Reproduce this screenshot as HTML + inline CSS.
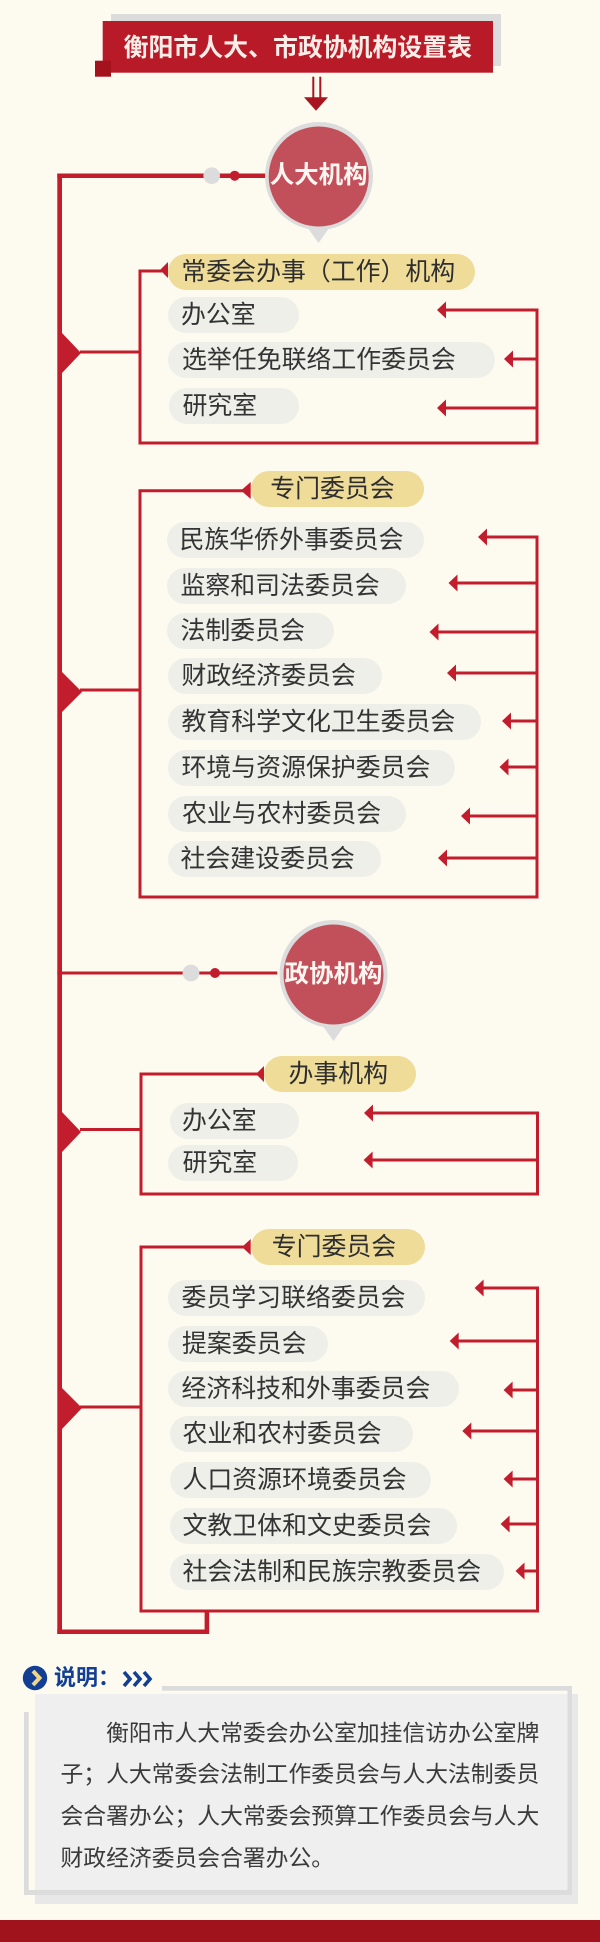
<!DOCTYPE html>
<html><head><meta charset="utf-8">
<style>
html,body{margin:0;padding:0;}
body{width:600px;height:1942px;background:#fdfaef;position:relative;overflow:hidden;font-family:"Liberation Sans","Noto Sans CJK SC",sans-serif;}
svg{position:absolute;left:0;top:0;}
.p{position:absolute;height:36px;line-height:36px;border-radius:18px;background:#efefe9;color:#333;font-size:24.9px;white-space:nowrap;box-sizing:border-box;}
.y{background:#efdc99;color:#2e2e2e;}
.ct{position:absolute;width:110px;height:36px;line-height:36px;text-align:center;color:#fff6f2;font-weight:bold;font-size:24.5px;white-space:nowrap;}
</style></head>
<body>
<svg width="600" height="1942" viewBox="0 0 600 1942">
<!-- title -->
<rect x="111" y="14" width="390" height="52" fill="#dcdcdc"/>
<rect x="102.7" y="21" width="390.3" height="51.7" fill="#b91a28"/>
<rect x="95" y="60.7" width="16" height="16" fill="#a3121d"/>
<rect x="312.3" y="76.7" width="2" height="21.5" fill="#a8141f"/>
<rect x="319.3" y="76.7" width="2" height="21.5" fill="#a8141f"/>
<polygon points="304,97.3 328,97.3 316,110.7" fill="#a8141f"/>

<!-- main line -->
<g fill="#c21d2d">
<rect x="57.3" y="173.5" width="4.7" height="1460.5"/>
<rect x="57.3" y="173.5" width="215" height="4.5"/>
<rect x="57.3" y="1629.5" width="151.7" height="4.5"/>
<rect x="204.6" y="1610" width="4.6" height="24"/>
<rect x="57.3" y="971.5" width="220" height="3"/>
</g>
<circle cx="211.7" cy="175.7" r="8.3" fill="#dcdcdc"/>
<circle cx="234.7" cy="175.7" r="5" fill="#c21d2d"/>
<circle cx="191" cy="973" r="8.4" fill="#dcdcdc"/>
<circle cx="215" cy="973" r="5" fill="#c21d2d"/>

<!-- circles -->
<circle cx="319" cy="176" r="54" fill="#dcdcdc"/>
<polygon points="305,224 332,224 318.5,243" fill="#dcdcdc"/>
<circle cx="318.7" cy="176.5" r="50" fill="#c1505a"/>
<circle cx="333.5" cy="974" r="54" fill="#dcdcdc"/>
<polygon points="320,1022 347,1022 333.5,1041" fill="#dcdcdc"/>
<circle cx="333.5" cy="974.5" r="50" fill="#c1505a"/>

<!-- brackets -->
<g fill="none" stroke="#c21d2d" stroke-width="3">
<path d="M162,271 H140 V443 H537 V310"/>
<path d="M243,490.7 H140 V897 H537 V537"/>
<path d="M258,1074 H141 V1194 H537.5 V1113"/>
<path d="M244,1247 H141 V1611 H537.5 V1288"/>
<line x1="80" y1="352" x2="140" y2="352"/>
<line x1="80" y1="690" x2="140" y2="690"/>
<line x1="80" y1="1129.5" x2="141" y2="1129.5"/>
<line x1="80" y1="1407" x2="141" y2="1407"/>
<!-- arrow lines -->
<line x1="445" y1="310" x2="538.5" y2="310"/>
<line x1="512" y1="359" x2="538.5" y2="359"/>
<line x1="445" y1="408" x2="538.5" y2="408"/>
<line x1="486" y1="537" x2="538.5" y2="537"/>
<line x1="456" y1="583" x2="538.5" y2="583"/>
<line x1="437" y1="632" x2="538.5" y2="632"/>
<line x1="455" y1="673" x2="538.5" y2="673"/>
<line x1="510" y1="721" x2="538.5" y2="721"/>
<line x1="507" y1="767" x2="538.5" y2="767"/>
<line x1="469" y1="816" x2="538.5" y2="816"/>
<line x1="446" y1="858" x2="538.5" y2="858"/>
<line x1="372" y1="1113" x2="539" y2="1113"/>
<line x1="372" y1="1160" x2="539" y2="1160"/>
<line x1="482" y1="1288" x2="539" y2="1288"/>
<line x1="457" y1="1341" x2="539" y2="1341"/>
<line x1="511" y1="1390" x2="539" y2="1390"/>
<line x1="470" y1="1431" x2="539" y2="1431"/>
<line x1="511" y1="1479" x2="539" y2="1479"/>
<line x1="508" y1="1524" x2="539" y2="1524"/>
<line x1="523" y1="1571" x2="539" y2="1571"/>
</g>
<g fill="#c21d2d">
<!-- big triangles -->
<polygon points="62,333 62,373 81,353"/>
<polygon points="62,672 62,712 82,692"/>
<polygon points="62,1112 62,1152 81,1132"/>
<polygon points="62,1388 62,1429 82,1408"/>
<!-- header triangles -->
<polygon points="160,270 168,262 168,278"/>
<polygon points="241,490.5 250.7,482 250.7,499"/>
<polygon points="256,1074 264,1066 264,1082"/>
<polygon points="242,1247 250.7,1239 250.7,1255"/>
<!-- arrowheads -->
<polygon points="437,310 446,301.5 446,318.5"/>
<polygon points="504,359 513,350.5 513,367.5"/>
<polygon points="437,408 446,399.5 446,416.5"/>
<polygon points="478,537 487,528.5 487,545.5"/>
<polygon points="448.5,583 457.5,574.5 457.5,591.5"/>
<polygon points="429.5,632 438.5,623.5 438.5,640.5"/>
<polygon points="447,673 456,664.5 456,681.5"/>
<polygon points="502,721 511,712.5 511,729.5"/>
<polygon points="499.5,767 508.5,758.5 508.5,775.5"/>
<polygon points="461,816 470,807.5 470,824.5"/>
<polygon points="438,858 447,849.5 447,866.5"/>
<polygon points="364,1113 373,1104.5 373,1121.5"/>
<polygon points="363.6,1160 372.6,1151.5 372.6,1168.5"/>
<polygon points="474.6,1288 483.6,1279.5 483.6,1296.5"/>
<polygon points="449.7,1341 458.7,1332.5 458.7,1349.5"/>
<polygon points="503.6,1390 512.6,1381.5 512.6,1398.5"/>
<polygon points="462.3,1431 471.3,1422.5 471.3,1439.5"/>
<polygon points="503.6,1479 512.6,1470.5 512.6,1487.5"/>
<polygon points="500.6,1524 509.6,1515.5 509.6,1532.5"/>
<polygon points="515.5,1571 524.5,1562.5 524.5,1579.5"/>
</g>

<!-- note box -->
<rect x="35" y="1694" width="543" height="210" fill="#e8e8e8"/>
<rect x="24" y="1686" width="548" height="209" fill="#dcdcdc"/>
<rect x="28.7" y="1690.7" width="538.8" height="199.3" fill="#fdfaef"/>
<rect x="35" y="1694" width="532.5" height="196" fill="#efefef"/>
<rect x="18" y="1683" width="144" height="8" fill="#fdfaef"/>
<rect x="18" y="1683" width="11" height="29" fill="#fdfaef"/>
<circle cx="35" cy="1678" r="12.2" fill="#123f94"/>
<polyline points="33,1671 39.5,1678 33,1685" fill="none" stroke="#f0d58c" stroke-width="4"/>
<g fill="none" stroke="#123f94" stroke-width="3.6">
<polyline points="124,1672 130,1679 124,1686"/>
<polyline points="134,1672 140,1679 134,1686"/>
<polyline points="144,1672 150,1679 144,1686"/>
</g>
<rect x="0" y="1920" width="600" height="22" fill="#a0121c"/>
</svg>

<div style="position:absolute;left:102.7px;top:30px;width:390.3px;height:36px;line-height:36px;text-align:center;color:#fbeee8;font-weight:bold;font-size:24.9px;white-space:nowrap;">衡阳市人大、市政协机构设置表</div>

<div class="ct" style="left:263.7px;top:158px;">人大机构</div>
<div class="ct" style="left:278.5px;top:956.5px;">政协机构</div>

<!-- G1 -->
<div class="p y" style="left:168.4px;top:254px;width:306.6px;padding-left:13px;">常委会办事（工作）机构</div>
<div class="p" style="left:168px;top:297px;width:130.5px;padding-left:13px;">办公室</div>
<div class="p" style="left:168px;top:342px;width:327px;padding-left:14px;">选举任免联络工作委员会</div>
<div class="p" style="left:169px;top:388px;width:129.5px;padding-left:13.5px;">研究室</div>

<!-- G2 -->
<div class="p y" style="left:250.7px;top:471px;width:173px;padding-left:19.5px;">专门委员会</div>
<div class="p" style="left:167px;top:522px;width:256.6px;padding-left:12.5px;">民族华侨外事委员会</div>
<div class="p" style="left:167px;top:568px;width:238.7px;padding-left:13.5px;">监察和司法委员会</div>
<div class="p" style="left:167px;top:613px;width:166.7px;padding-left:13.5px;">法制委员会</div>
<div class="p" style="left:168px;top:658px;width:214px;padding-left:13.5px;">财政经济委员会</div>
<div class="p" style="left:168px;top:704px;width:313.4px;padding-left:13.5px;">教育科学文化卫生委员会</div>
<div class="p" style="left:168px;top:750px;width:287.4px;padding-left:13.5px;">环境与资源保护委员会</div>
<div class="p" style="left:168px;top:796px;width:238.4px;padding-left:14px;">农业与农村委员会</div>
<div class="p" style="left:168px;top:841px;width:212.8px;padding-left:12.5px;">社会建设委员会</div>

<!-- G3 -->
<div class="p y" style="left:264px;top:1056px;width:152.4px;padding-left:24.5px;">办事机构</div>
<div class="p" style="left:169.5px;top:1103px;width:129.5px;padding-left:12.5px;">办公室</div>
<div class="p" style="left:168px;top:1145px;width:129.7px;padding-left:14.5px;">研究室</div>

<!-- G4 -->
<div class="p y" style="left:250.7px;top:1229px;width:174.1px;padding-left:21px;">专门委员会</div>
<div class="p" style="left:168px;top:1280px;width:256.8px;padding-left:13.5px;">委员学习联络委员会</div>
<div class="p" style="left:168px;top:1326px;width:160.4px;padding-left:14px;">提案委员会</div>
<div class="p" style="left:168px;top:1371px;width:291px;padding-left:13.5px;">经济科技和外事委员会</div>
<div class="p" style="left:169.5px;top:1416px;width:243px;padding-left:13px;">农业和农村委员会</div>
<div class="p" style="left:169.5px;top:1462px;width:261px;padding-left:13px;">人口资源环境委员会</div>
<div class="p" style="left:169.5px;top:1508px;width:287.1px;padding-left:13px;">文教卫体和文史委员会</div>
<div class="p" style="left:169.5px;top:1554px;width:334.1px;padding-left:13px;">社会法制和民族宗教委员会</div>

<!-- note -->
<div style="position:absolute;left:54px;top:1660px;height:36px;line-height:36px;font-size:22px;font-weight:bold;color:#123f94;white-space:nowrap;">说明：</div>
<div style="position:absolute;left:60.5px;top:1712.5px;font-size:22.8px;line-height:41.7px;color:#3a3a3a;white-space:nowrap;">
<div style="padding-left:45.6px;">衡阳市人大常委会办公室加挂信访办公室牌</div>
<div>子；人大常委会法制工作委员会与人大法制委员</div>
<div>会合署办公；人大常委会预算工作委员会与人大</div>
<div>财政经济委员会合署办公。</div>
</div>
</body></html>
